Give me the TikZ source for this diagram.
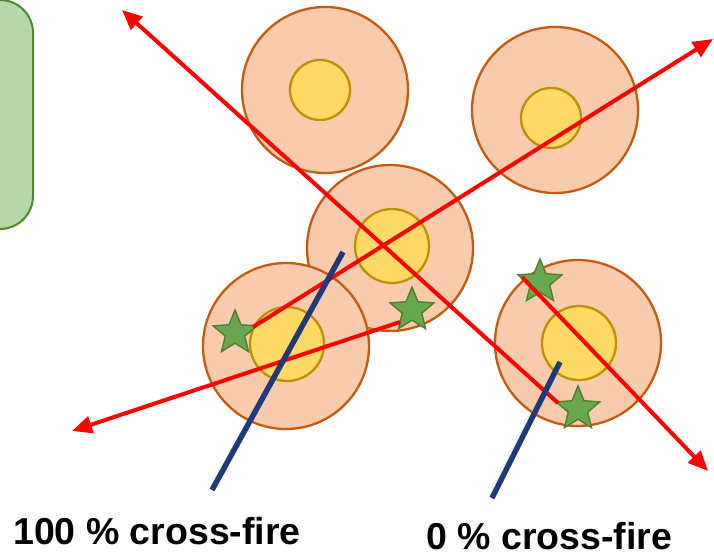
\documentclass[tikz,border=0pt]{standalone}
\usepackage{fontspec}
\setmainfont{Liberation Sans}
\usetikzlibrary{arrows.meta,shapes.geometric}
\definecolor{cellfill}{HTML}{F8CBAD}
\definecolor{celldraw}{HTML}{C55A11}
\definecolor{nucfill}{HTML}{FFD966}
\definecolor{nucdraw}{HTML}{BF9000}
\definecolor{boxfill}{HTML}{B6D8A8}
\definecolor{boxdraw}{HTML}{4A8A2A}
\definecolor{starfill}{HTML}{6AA84F}
\definecolor{stardraw}{HTML}{4E7F32}
\definecolor{navy}{HTML}{203A78}
\tikzset{
  cell/.style={circle,draw=celldraw,fill=cellfill,line width=2.3pt,inner sep=0pt,minimum size=166pt},
  nuc/.style={circle,draw=nucdraw,fill=nucfill,line width=2.3pt,inner sep=0pt,minimum size=#1},
  nuc/.default=74pt,
  starnode/.style={star,star points=5,star point ratio=2.25,draw=stardraw,fill=starfill,line width=1.4pt,inner sep=0pt,minimum size=46pt},
  ray/.style={draw=red,line width=4pt,-{Triangle[length=20pt,width=17pt]}},
  track/.style={draw=navy,line width=5.5pt},
  lbl/.style={font=\fontsize{37.5}{40}\selectfont\bfseries,inner sep=0pt,text depth=0pt,anchor=base west}
}
\begin{document}
\begin{tikzpicture}[x=1pt,y=-1pt]
\useasboundingbox (0,0) rectangle (714,556);
\begin{scope}
\clip (0,0) rectangle (714,556);
\draw[draw=boxdraw,fill=boxfill,line width=2pt,rounded corners=33pt] (-80,0) rectangle (33,229);
\end{scope}
% cells
\node[cell] (c1) at (325,90) {};
\node[nuc=60pt] (n1) at (320,90) {};
\node[cell] (c2) at (555,110) {};
\node[nuc=60pt] (n2) at (551,118) {};
\node[cell] (c3) at (390,248) {};
\node[nuc] (n3) at (392,246) {};
\node[cell] (c4) at (286,346) {};
\node[nuc] (n4) at (287,344) {};
\node[cell] (c5) at (578,343) {};
\node[nuc] (n5) at (579,343) {};
% stars
\node[starnode] (s1) at (235,333) {};
\node[starnode] (s2) at (412,310) {};
\node[starnode] (s3) at (540,282) {};
\node[starnode] (s4) at (578,409) {};
% ray ends
\coordinate (a0) at (558,403);
\coordinate (a1) at (122,10);
\coordinate (b0) at (522,277);
\coordinate (b1) at (708,471);
\coordinate (c0) at (253,327);
\coordinate (c1e) at (713,39);
\coordinate (d0) at (400,322);
\coordinate (d1) at (72,431);
\draw[ray] (a0) -- (a1);
\draw[ray] (b0) -- (b1);
\draw[ray] (c0) -- (c1e);
\draw[ray] (d0) -- (d1);
% tracks
\coordinate (t1a) at (343,252);
\coordinate (t1b) at (212,490);
\coordinate (t2a) at (560,362);
\coordinate (t2b) at (492,498);
\draw[track] (t1a) -- (t1b);
\draw[track] (t2a) -- (t2b);
% labels
\node[lbl] (l1) at (13,544) {100 \% cross-fire};
\node[lbl] (l2) at (426,549) {0 \% cross-fire};
\end{tikzpicture}
\end{document}
